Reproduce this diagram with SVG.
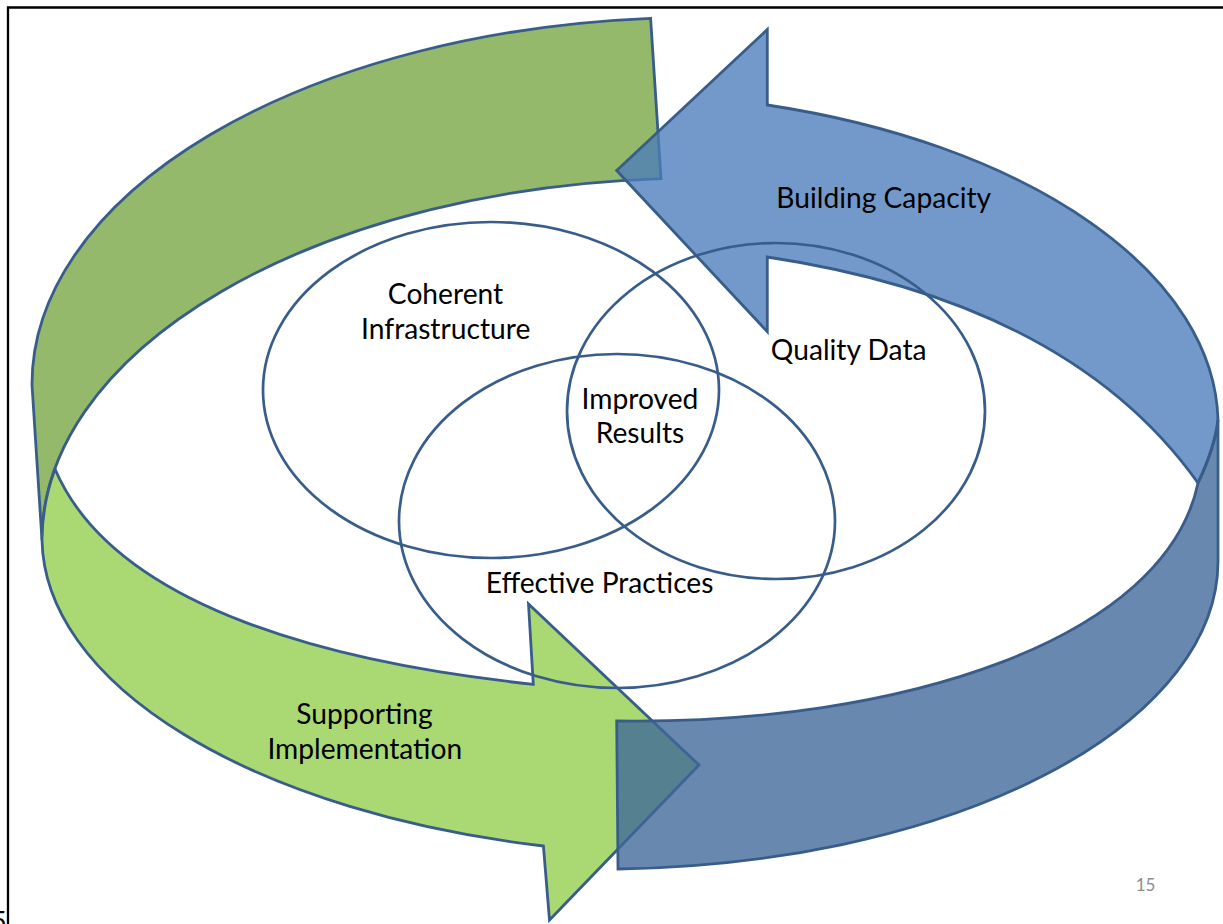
<svg xmlns="http://www.w3.org/2000/svg" width="1223" height="924" viewBox="0 0 1223 924">
  <style>
    .edge { stroke: #385D8A; stroke-width: 2.8; stroke-linejoin: miter; }
    .green-back { fill: #94B96B; }
    .green-front { fill: #AAD974; }
    .blue-back { fill: #4B7CBB; fill-opacity: 0.78; }
    .blue-front { fill: #3E6799; fill-opacity: 0.78; }
    .venn { fill: none; stroke: #385D8A; stroke-width: 2.7; }
    .label { font-family: Lato, "Liberation Sans", sans-serif; font-size: 28.2px; fill: #000; text-anchor: middle; }
    .pageno { font-family: Lato, "Liberation Sans", sans-serif; font-size: 17px; fill: #8C8C8C; text-anchor: middle; }
  </style>

  <rect width="1223" height="924" fill="#FFFFFF"/>

  <!-- slide frame (left and top edges only) -->
  <g id="frame">
    <path d="M 8,924 V 7.5 H 1223" fill="none" stroke="#000" stroke-width="2.3"/>
    <text x="6.5" y="931" font-family="Lato, 'Liberation Sans', sans-serif" font-size="26" text-anchor="end" fill="#000">5</text>
  </g>

  <g id="connectors">
    <!-- green ribbon arrow, tail at top, head pointing right at bottom -->
    <g id="arrow-supporting-implementation">
      <path class="green-back edge" d="M 650.6,18.3 A 668 367 0 0 0 32,385 L 42,540 A 658 362 0 0 1 661,178.6 Z"/>
      <path class="green-front edge" d="M 55,469 A 658 362 0 0 0 42,540 A 658 318 0 0 0 543.4,846 L 549.5,920 L 699,765 L 528.5,604 L 533.3,684.3 C 340,664 115,610 55,469 Z"/>
      <text class="label" x="364.5" y="723.5">Supporting</text>
      <text class="label" x="364.8" y="759.3">Implementation</text>
    </g>

    <!-- blue ribbon arrow, tail at bottom, head pointing left at top -->
    <g id="arrow-building-capacity">
      <path class="blue-back edge" d="M 616.7,170.5 L 767.3,29.5 L 767.3,105 A 618 332 0 0 1 1218,420 Q 1215,447 1198,483 C 1112,362 967,287 767.3,257 L 767.3,331.7 Z"/>
      <path class="blue-front edge" d="M 616.7,721 C 900,725 1165,640 1198,483 Q 1215,447 1218,420 L 1218,560 A 618 308 0 0 1 618,869 Z"/>
      <text class="label" x="883.7" y="207.7">Building Capacity</text>
    </g>
  </g>

  <g id="node-coherent-infrastructure">
    <ellipse class="venn" cx="491" cy="390" rx="228" ry="168"/>
    <text class="label" x="445.5" y="304">Coherent</text>
    <text class="label" x="445.7" y="339.3">Infrastructure</text>
  </g>

  <g id="node-quality-data">
    <ellipse class="venn" cx="776" cy="411" rx="209" ry="168"/>
    <text class="label" x="848.7" y="360">Quality Data</text>
  </g>

  <g id="node-effective-practices">
    <ellipse class="venn" cx="617" cy="521" rx="218" ry="167"/>
    <text class="label" x="599.6" y="593.3">Effective Practices</text>
  </g>

  <g id="node-improved-results">
    <text class="label" x="640" y="409">Improved</text>
    <text class="label" x="640" y="443">Results</text>
  </g>

  <text class="pageno" x="1145.5" y="890.5">15</text>
</svg>
